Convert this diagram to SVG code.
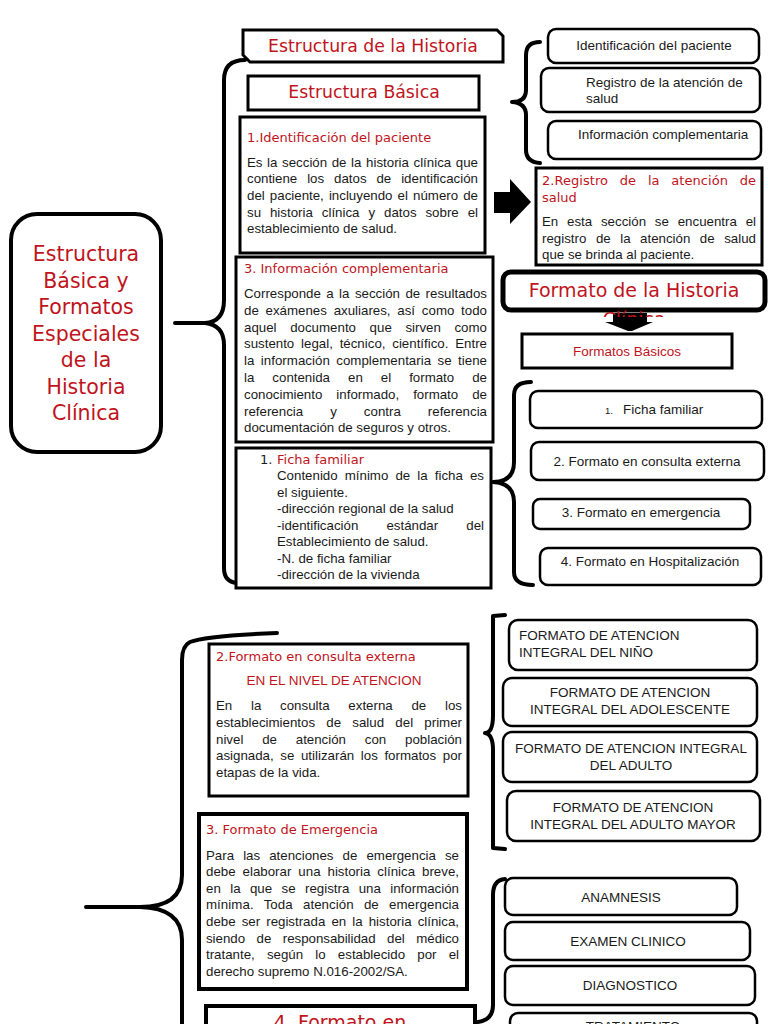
<svg xmlns="http://www.w3.org/2000/svg" width="768" height="1024" viewBox="0 0 768 1024">
<style>
.bg{fill:#fff}
.box{fill:#fff;stroke:#000;stroke-width:3}
.box4{fill:#fff;stroke:#000;stroke-width:4}
.rbox{fill:#fff;stroke:#000;stroke-width:2.5}
.brace{fill:none;stroke:#000;stroke-width:4;stroke-linecap:round;stroke-linejoin:round}
.dv{font-family:"DejaVu Sans","Noto Sans",sans-serif;fill:#c0141c}
.b{font-family:"Liberation Sans",Arial,sans-serif;font-size:13.3px;fill:#1a1a1a}
.s{font-family:"Liberation Sans",Arial,sans-serif;font-size:13.5px;fill:#1a1a1a}
.m{text-anchor:middle}
</style>
<defs>
<clipPath id="clipClin"><rect x="500" y="300" width="268" height="17"/></clipPath>
</defs>
<rect class="bg" x="0" y="0" width="768" height="1024"/>

<g id="connectors">
<path class="brace" d="M245 60 Q224 60 224 80 L224 300 Q224 322 205 323 L175 323 M205 323 Q224 325 224 345 L224 568 Q224 582 237 583"/>
<path class="brace" d="M540 42 Q526 42 526 55 L526 90 Q526 102 512 102 M512 102 Q526 103 526 115 L526 150 Q526 162 540 163"/>
<polygon points="494,192 510,192 510,179 531,202 510,224 510,213 494,213" fill="#000"/>
<polygon points="613,313 647,313 647,322 653,322 632,331 628,331 605,322 613,322" fill="#000"/>
<path class="brace" d="M531 382 Q514 382 514 395 L514 462 Q514 482 493 482 M493 482 Q514 483 514 502 L514 572 Q514 585 533 585"/>
<path class="brace" d="M277 633 Q205 636 190 642 Q182 646 182 660 L182 875 Q182 907 140 907 L86 907 M140 907 Q182 908 182 940 L182 1030"/>
<path class="brace" d="M505 615 L493 616 L493 715 Q493 733 485 733 M485 733 Q493 734 493 750 L493 848 L505 849"/>
<path class="brace" d="M505 879 Q493 880 493 895 L493 1005 Q493 1020 478 1022"/>
</g>

<g id="main">
<rect x="11" y="214" width="150" height="238" rx="26" fill="#fff" stroke="#000" stroke-width="4"/>
<g class="dv m" font-size="20.5">
<text x="86" y="261">Estructura</text>
<text x="86" y="288">Básica y</text>
<text x="86" y="314">Formatos</text>
<text x="86" y="341">Especiales</text>
<text x="86" y="367">de la</text>
<text x="86" y="394">Historia</text>
<text x="86" y="420">Clínica</text>
</g>
</g>

<g id="estructura-historia">
<path class="box" d="M243 30 L497 30 L503 36 L503 62 L250 62 L243 55 Z"/>
<text class="dv m" x="373" y="52" font-size="17.3">Estructura de la Historia</text>
</g>

<g id="estructura-basica">
<rect class="box" x="248" y="76" width="231" height="34"/>
<text class="dv m" x="364" y="98" font-size="17.3">Estructura Básica</text>
</g>

<g id="identificacion">
<rect class="box" x="240" y="117" width="245" height="136"/>
<text class="dv" x="247" y="142" font-size="13">1.Identificación del paciente</text>
<g class="b">
<text x="247" y="167" word-spacing="0.9" textLength="231" lengthAdjust="spacing">Es la sección de la historia clínica que</text>
<text x="247" y="183" word-spacing="6.2" textLength="231" lengthAdjust="spacing">contiene los datos de identificación</text>
<text x="247" y="200" word-spacing="1.4" textLength="231" lengthAdjust="spacing">del paciente, incluyendo el número de</text>
<text x="247" y="217" word-spacing="5.2" textLength="231" lengthAdjust="spacing">su historia clínica y datos sobre el</text>
<text x="247" y="233">establecimiento de salud.</text>
</g>
</g>

<g id="info-complementaria">
<rect class="box" x="236" y="257" width="257" height="185"/>
<text class="dv" x="244" y="273" font-size="13">3. Información complementaria</text>
<g class="b">
<text x="244" y="298" word-spacing="1.7" textLength="243" lengthAdjust="spacing">Corresponde a la sección de resultados</text>
<text x="244" y="315" word-spacing="3.1" textLength="243" lengthAdjust="spacing">de exámenes axuliares, así como todo</text>
<text x="244" y="332" word-spacing="9.9" textLength="243" lengthAdjust="spacing">aquel documento que sirven como</text>
<text x="244" y="348" word-spacing="3.1" textLength="243" lengthAdjust="spacing">sustento legal, técnico, científico. Entre</text>
<text x="244" y="365" word-spacing="2.7" textLength="243" lengthAdjust="spacing">la información complementaria se tiene</text>
<text x="244" y="382" word-spacing="14.3" textLength="243" lengthAdjust="spacing">la contenida en el formato de</text>
<text x="244" y="399" word-spacing="10.3" textLength="243" lengthAdjust="spacing">conocimiento informado, formato de</text>
<text x="244" y="416" word-spacing="23.3" textLength="243" lengthAdjust="spacing">referencia y contra referencia</text>
<text x="244" y="432">documentación de seguros y otros.</text>
</g>
</g>

<g id="ficha-familiar">
<rect class="box" x="236" y="448" width="255" height="140"/>
<text class="dv" x="260" y="464" font-size="13"><tspan fill="#1a1a1a">1.</tspan><tspan x="277">Ficha familiar</tspan></text>
<g class="b">
<text x="277" y="480" word-spacing="3.4" textLength="207" lengthAdjust="spacing">Contenido mínimo de la ficha es</text>
<text x="277" y="497">el siguiente.</text>
<text x="277" y="513">-dirección regional de la salud</text>
<text x="277" y="530" word-spacing="24.4" textLength="207" lengthAdjust="spacing">-identificación estándar del</text>
<text x="277" y="546">Establecimiento de salud.</text>
<text x="277" y="563">-N. de ficha familiar</text>
<text x="277" y="579">-dirección de la vivienda</text>
</g>
</g>

<g id="r-identificacion">
<rect class="rbox" x="548" y="29" width="211" height="34" rx="8"/>
<text class="s m" x="654" y="50">Identificación del paciente</text>
</g>
<g id="r-registro">
<rect class="rbox" x="541" y="68" width="219" height="44" rx="8"/>
<text class="s" x="586" y="87">Registro de la atención de</text>
<text class="s" x="586" y="103">salud</text>
</g>
<g id="r-informacion">
<rect class="rbox" x="548" y="121" width="213" height="38" rx="8"/>
<text class="s" x="578" y="139">Información complementaria</text>
</g>

<g id="registro-atencion">
<rect class="box" x="536" y="168" width="226" height="97"/>
<text class="dv" x="542" y="185" font-size="13" word-spacing="7.6" textLength="214" lengthAdjust="spacing">2.Registro de la atención de</text>
<text class="dv" x="542" y="202" font-size="13">salud</text>
<g class="b">
<text x="542" y="226" word-spacing="5.1" textLength="214" lengthAdjust="spacing">En esta sección se encuentra el</text>
<text x="542" y="243" word-spacing="5.8" textLength="214" lengthAdjust="spacing">registro de la atención de salud</text>
<text x="542" y="259">que se brinda al paciente.</text>
</g>
</g>

<g id="formato-historia">
<rect x="503" y="272" width="262" height="38" rx="8" fill="#fff" stroke="#000" stroke-width="5"/>
<text class="dv m" x="634" y="297" font-size="19">Formato de la Historia</text>
<text class="dv m" x="634" y="326" font-size="19" clip-path="url(#clipClin)">Clínica</text>
</g>

<g id="formatos-basicos">
<rect class="box" x="522" y="334" width="210" height="34" stroke-width="2.5"/>
<text class="s m" x="627" y="356" style="fill:#c0141c">Formatos Básicos</text>
</g>

<g id="f-ficha">
<rect class="rbox" x="530" y="391" width="232" height="37" rx="8"/>
<text class="s" x="605" y="414"><tspan font-size="9.5">1.</tspan><tspan x="623">Ficha familiar</tspan></text>
</g>
<g id="f-consulta">
<rect class="rbox" x="531" y="442" width="233" height="38" rx="8"/>
<text class="s m" x="647" y="466">2. Formato en consulta externa</text>
</g>
<g id="f-emergencia">
<rect class="rbox" x="533" y="499" width="217" height="30" rx="7"/>
<text class="s m" x="641" y="517">3. Formato en emergencia</text>
</g>
<g id="f-hospitalizacion">
<rect class="rbox" x="540" y="548" width="221" height="37" rx="8"/>
<text class="s m" x="650" y="566">4. Formato en Hospitalización</text>
</g>

<g id="consulta-externa">
<rect class="box" x="209" y="644" width="259" height="152"/>
<text class="dv" x="216" y="661" font-size="13">2.Formato en consulta externa</text>
<text class="s m" x="334" y="685" style="fill:#c0141c">EN EL NIVEL DE ATENCION</text>
<g class="b">
<text x="216" y="710" word-spacing="15" textLength="246" lengthAdjust="spacing">En la consulta externa de los</text>
<text x="216" y="727" word-spacing="7.5" textLength="246" lengthAdjust="spacing">establecimientos de salud del primer</text>
<text x="216" y="744" word-spacing="15.1" textLength="246" lengthAdjust="spacing">nivel de atención con población</text>
<text x="216" y="760" word-spacing="2.9" textLength="246" lengthAdjust="spacing">asignada, se utilizarán los formatos por</text>
<text x="216" y="777">etapas de la vida.</text>
</g>
</g>

<g id="a-nino">
<rect class="rbox" x="509" y="620" width="248" height="50" rx="9"/>
<text class="s" x="519" y="640">FORMATO DE ATENCION</text>
<text class="s" x="519" y="657">INTEGRAL DEL NIÑO</text>
</g>
<g id="a-adolescente">
<rect class="rbox" x="503" y="678" width="254" height="48" rx="9"/>
<text class="s m" x="630" y="697">FORMATO DE ATENCION</text>
<text class="s m" x="630" y="714">INTEGRAL DEL ADOLESCENTE</text>
</g>
<g id="a-adulto">
<rect class="rbox" x="503" y="732" width="254" height="50" rx="9"/>
<text class="s m" x="631" y="753">FORMATO DE ATENCION INTEGRAL</text>
<text class="s m" x="631" y="770">DEL ADULTO</text>
</g>
<g id="a-adulto-mayor">
<rect class="rbox" x="507" y="791" width="253" height="50" rx="9"/>
<text class="s m" x="633" y="812">FORMATO DE ATENCION</text>
<text class="s m" x="633" y="829">INTEGRAL DEL ADULTO MAYOR</text>
</g>

<g id="emergencia">
<rect class="box4" x="199" y="814" width="268" height="175"/>
<text class="dv" x="206" y="834" font-size="13">3. Formato de Emergencia</text>
<g class="b">
<text x="206" y="860" word-spacing="5.4" textLength="253" lengthAdjust="spacing">Para las atenciones de emergencia se</text>
<text x="206" y="876" word-spacing="3.3" textLength="253" lengthAdjust="spacing">debe elaborar una historia clínica breve,</text>
<text x="206" y="893" word-spacing="5.7" textLength="253" lengthAdjust="spacing">en la que se registra una información</text>
<text x="206" y="909" word-spacing="6.5" textLength="253" lengthAdjust="spacing">mínima. Toda atención de emergencia</text>
<text x="206" y="926" word-spacing="2.4" textLength="253" lengthAdjust="spacing">debe ser registrada en la historia clínica,</text>
<text x="206" y="943" word-spacing="7.9" textLength="253" lengthAdjust="spacing">siendo de responsabilidad del médico</text>
<text x="206" y="959" word-spacing="8.5" textLength="253" lengthAdjust="spacing">tratante, según lo establecido por el</text>
<text x="206" y="976">derecho supremo N.016-2002/SA.</text>
</g>
</g>

<g id="hospitalizacion">
<rect class="box4" x="206" y="1006" width="269" height="40"/>
<text class="dv m" x="340" y="1029" font-size="19">4. Formato en</text>
</g>

<g id="h-anamnesis">
<rect class="rbox" x="505" y="878" width="232" height="37" rx="8"/>
<text class="s m" x="621" y="902">ANAMNESIS</text>
</g>
<g id="h-examen">
<rect class="rbox" x="505" y="922" width="245" height="38" rx="8"/>
<text class="s m" x="628" y="946">EXAMEN CLINICO</text>
</g>
<g id="h-diagnostico">
<rect class="rbox" x="505" y="966" width="250" height="39" rx="8"/>
<text class="s m" x="630" y="990">DIAGNOSTICO</text>
</g>
<g id="h-tratamiento">
<rect class="rbox" x="510" y="1013" width="247" height="38" rx="8"/>
<text class="s m" x="633" y="1031">TRATAMIENTO</text>
</g>
</svg>
